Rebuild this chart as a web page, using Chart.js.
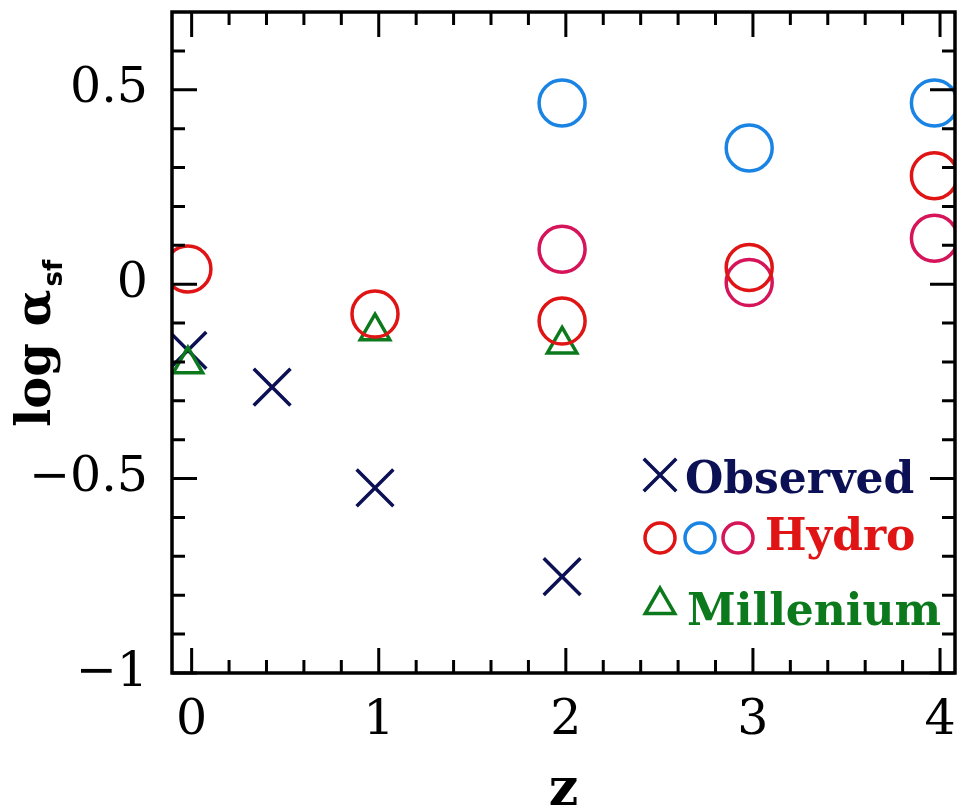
<!DOCTYPE html>
<html>
<head>
<meta charset="utf-8">
<script src="https://cdn.jsdelivr.net/npm/chart.js@4/dist/chart.umd.min.js"></script>
<style>
  html, body { margin: 0; padding: 0; background: #fff; }
  canvas { display: block; }
</style>
</head>
<body>
<canvas id="chart" width="959" height="807"></canvas>
<script>
// Tick values on the two axes
const xTickValues = [0, 1, 2, 3, 4];
const yTickValues = [-1, -0.5, 0, 0.5];

// Observed star-formation efficiency
const observedLabel = 'Observed';
const observedZ = [-0.02, 0.43, 0.98, 1.98];
const observedLogA = [-0.17, -0.265, -0.524, -0.752];

// Hydrodynamical simulations (three runs)
const hydroLabel = 'Hydro';
const hydroRedZ = [-0.02, 0.98, 1.98, 2.98, 3.97];
const hydroRedLogA = [0.039, -0.077, -0.095, 0.043, 0.279];
const hydroBlueZ = [1.98, 2.98, 3.97];
const hydroBlueLogA = [0.466, 0.35, 0.466];
const hydroPinkZ = [1.98, 2.98, 3.97];
const hydroPinkLogA = [0.09, 0.004, 0.118];

// Semi-analytic model on the Millennium run
const milleniumLabel = 'Millenium';
const milleniumZ = [-0.02, 0.98, 1.98];
const milleniumLogA = [-0.206, -0.121, -0.155];

const NAVY = '#0c1054';
const RED = '#e01414';
const BLUE = '#1a84e4';
const PINK = '#d6145a';
const GREEN = '#0c7a1c';

const MARK_W = 3.5;

const pts = (xs, ys) => xs.map((x, i) => ({ x: x, y: ys[i] }));

const fmt = v => (v < 0 ? '\u2212' + Math.abs(v) : String(v));

const noPad = s => { s.paddingTop = 0; s.paddingBottom = 0; s.paddingLeft = 0; s.paddingRight = 0; };

// Frame with inward major/minor ticks on all four sides, plus titles and key
const framePlugin = {
  id: 'frame',
  afterDatasetsDraw(chart) {
    const { ctx, chartArea: a, scales: { x, y } } = chart;
    ctx.save();
    ctx.strokeStyle = '#000';
    ctx.lineWidth = 3.5;
    ctx.lineCap = 'butt';
    ctx.strokeRect(a.left, a.top, a.right - a.left, a.bottom - a.top);

    const MAJ = 25, MIN = 13;
    ctx.lineWidth = 3;
    ctx.beginPath();
    for (let i = 0; i <= 20; i++) {
      const v = i * 0.2;
      const px = x.getPixelForValue(v);
      const len = (i % 5 === 0) ? MAJ : MIN;
      ctx.moveTo(px, a.bottom); ctx.lineTo(px, a.bottom - len);
      ctx.moveTo(px, a.top); ctx.lineTo(px, a.top + len);
    }
    for (let i = -10; i <= 6; i++) {
      const v = i * 0.1;
      const py = y.getPixelForValue(v);
      const len = (i % 5 === 0) ? MAJ : MIN;
      ctx.moveTo(a.left, py); ctx.lineTo(a.left + len, py);
      ctx.moveTo(a.right, py); ctx.lineTo(a.right - len, py);
    }
    ctx.stroke();

    // x-axis title
    ctx.fillStyle = '#000';
    ctx.font = 'bold 52px "DejaVu Serif"';
    ctx.textAlign = 'center';
    ctx.textBaseline = 'alphabetic';
    ctx.fillText('z', (a.left + a.right) / 2, 805);

    // y-axis title with subscript
    ctx.save();
    ctx.translate(50, 427);
    ctx.rotate(-Math.PI / 2);
    ctx.textAlign = 'left';
    ctx.font = 'bold 48px "DejaVu Serif"';
    const main = 'log \u03b1';
    ctx.fillText(main, 0, 0);
    const w = ctx.measureText(main).width;
    ctx.font = 'bold 26px "DejaVu Sans"';
    ctx.fillText('sf', w + 3, 12);
    ctx.restore();

    // key
    const drawMark = (style, r, color, px, py) => {
      ctx.save();
      ctx.strokeStyle = color;
      ctx.fillStyle = 'rgba(0,0,0,0)';
      ctx.lineWidth = MARK_W;
      Chart.helpers.drawPoint(ctx, { pointStyle: style, radius: r, borderWidth: MARK_W, rotation: 0 }, px, py);
      ctx.restore();
    };
    drawMark('crossRot', 23, NAVY, 660, 475);
    drawMark('circle', 15, RED, 660, 538);
    drawMark('circle', 15, BLUE, 700, 538);
    drawMark('circle', 15, PINK, 738, 538);
    drawMark('triangle', 17, GREEN, 660, 605);

    ctx.font = 'bold 44px "DejaVu Serif"';
    ctx.textAlign = 'left';
    ctx.textBaseline = 'alphabetic';
    ctx.fillStyle = NAVY; ctx.fillText(observedLabel, 685, 493);
    ctx.fillStyle = RED; ctx.fillText(hydroLabel, 765, 550);
    ctx.fillStyle = GREEN; ctx.fillText(milleniumLabel, 687, 625);
    ctx.restore();
  }
};

const ring = (label, data, color) => ({
  label, data,
  pointStyle: 'circle', pointRadius: 23, pointBorderWidth: MARK_W, borderWidth: MARK_W,
  borderColor: color, pointBorderColor: color, backgroundColor: 'rgba(0,0,0,0)',
  pointBackgroundColor: 'rgba(0,0,0,0)', showLine: false
});

new Chart(document.getElementById('chart'), {
  type: 'scatter',
  data: {
    datasets: [
      ring(hydroLabel, pts(hydroRedZ, hydroRedLogA), RED),
      ring(hydroLabel, pts(hydroBlueZ, hydroBlueLogA), BLUE),
      ring(hydroLabel, pts(hydroPinkZ, hydroPinkLogA), PINK),
      {
        label: milleniumLabel, data: pts(milleniumZ, milleniumLogA),
        pointStyle: 'triangle', pointRadius: 17, pointBorderWidth: MARK_W, borderWidth: MARK_W,
        borderColor: GREEN, pointBorderColor: GREEN, pointBackgroundColor: 'rgba(0,0,0,0)',
        backgroundColor: 'rgba(0,0,0,0)', showLine: false
      },
      {
        label: observedLabel, data: pts(observedZ, observedLogA),
        pointStyle: 'crossRot', pointRadius: 26, pointBorderWidth: MARK_W, borderWidth: MARK_W,
        borderColor: NAVY, pointBorderColor: NAVY, showLine: false
      }
    ]
  },
  options: {
    responsive: false,
    animation: false,
    devicePixelRatio: 1,
    layout: { autoPadding: false, padding: { top: 12, right: 4, left: 0, bottom: 0 } },
    plugins: { legend: { display: false }, tooltip: { enabled: false } },
    scales: {
      x: {
        type: 'linear', min: -0.105, max: 4.08,
        afterFit(s) { s.height = 134; noPad(s); },
        afterBuildTicks(s) { s.ticks = xTickValues.map(v => ({ value: v })); },
        grid: { display: false, drawTicks: false },
        border: { display: false },
        ticks: {
          font: { family: 'DejaVu Serif', size: 49 }, color: '#000',
          padding: 19, maxRotation: 0, autoSkip: false, callback: v => fmt(v)
        }
      },
      y: {
        type: 'linear', min: -1, max: 0.7,
        afterFit(s) { s.width = 172; noPad(s); },
        afterBuildTicks(s) { s.ticks = yTickValues.map(v => ({ value: v })); },
        grid: { display: false, drawTicks: false },
        border: { display: false },
        ticks: {
          font: { family: 'DejaVu Serif', size: 49 }, color: '#000',
          padding: 24, autoSkip: false, callback: v => fmt(v)
        }
      }
    }
  },
  plugins: [framePlugin]
});
</script>
</body>
</html>
